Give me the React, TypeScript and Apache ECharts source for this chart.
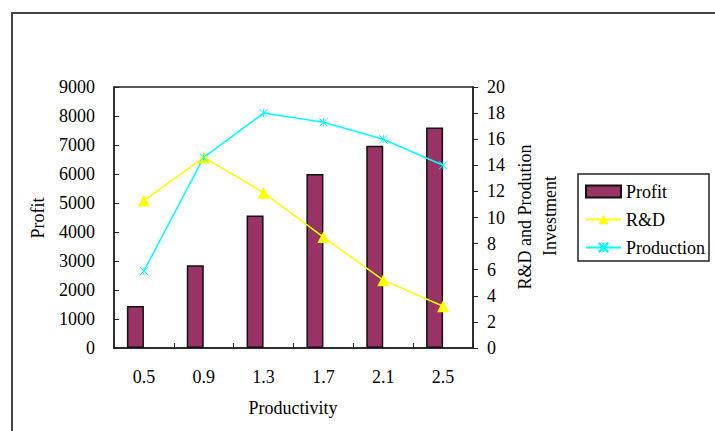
import React, { useEffect, useRef } from "react";
import * as echarts from "echarts";

const categories = ["0.5", "0.9", "1.3", "1.7", "2.1", "2.5"];
const profit = [1450, 2850, 4570, 6000, 6970, 7600];
const rnd = [11.3, 14.6, 11.9, 8.5, 5.2, 3.2];
const production = [5.9, 14.6, 18.0, 17.3, 16.0, 14.0];
const empty = [null, null, null, null, null, null];

const FONT = "'Liberation Serif', 'DejaVu Serif', serif";
const FS = 18;

export default function App() {
  const ref = useRef<HTMLDivElement>(null);
  useEffect(() => {
    if (!ref.current) return;
    const chart = echarts.init(ref.current, undefined, { renderer: "svg" });
    const textBase = { fontFamily: FONT, fontSize: FS, color: "#000" };
    chart.setOption({
      animation: false,
      backgroundColor: "#fff",
      textStyle: { fontFamily: FONT },
      grid: {
        left: 114,
        top: 87,
        width: 359,
        height: 261,
        show: true,
        borderColor: "#222",
        borderWidth: 1.5,
        containLabel: false,
      },
      legend: {
        orient: "vertical",
        left: 578,
        top: 174,
        padding: [7, 4, 3, 7],
        itemGap: 7,
        itemWidth: 35,
        itemHeight: 12,
        borderColor: "#222",
        borderWidth: 1.5,
        backgroundColor: "#fff",
        textStyle: { ...textBase, lineHeight: 21 },
        data: [{ name: "Profit", icon: "rect" }, { name: "R&D" }, { name: "Production" }],
      },
      xAxis: {
        type: "category",
        data: categories,
        axisLine: { show: true, lineStyle: { color: "#222", width: 1.5 } },
        axisTick: { show: true, inside: true, length: 5, lineStyle: { color: "#222" } },
        axisLabel: { ...textBase, margin: 20 },
        splitLine: { show: false },
      },
      yAxis: [
        {
          type: "value",
          min: 0,
          max: 9000,
          interval: 1000,
          axisLine: { show: true, lineStyle: { color: "#222", width: 1.5 } },
          axisTick: { show: true, inside: true, length: 5, lineStyle: { color: "#222" } },
          axisLabel: { ...textBase, margin: 19, formatter: (v: number) => String(v) },
          splitLine: { show: false },
        },
        {
          type: "value",
          min: 0,
          max: 20,
          interval: 2,
          position: "right",
          axisLine: { show: true, lineStyle: { color: "#222", width: 1.5 } },
          axisTick: { show: true, inside: false, length: 5, lineStyle: { color: "#222" } },
          axisLabel: { ...textBase, margin: 14, formatter: (v: number) => String(v) },
          splitLine: { show: false },
        },
      ],
      series: [
        {
          name: "Profit",
          type: "bar",
          data: profit,
          barWidth: 17,
          barGap: "0%",
          itemStyle: { color: "#993366", borderColor: "#111", borderWidth: 1.5 },
        },
        {
          name: "",
          type: "bar",
          data: empty,
          barWidth: 17,
          barGap: "0%",
          itemStyle: { color: "transparent" },
        },
        {
          name: "R&D",
          type: "line",
          yAxisIndex: 1,
          data: rnd,
          symbol: "triangle",
          symbolSize: 12,
          lineStyle: { color: "#FFFF00", width: 1.5 },
          itemStyle: { color: "#FFFF00" },
        },
        {
          name: "Production",
          type: "line",
          yAxisIndex: 1,
          data: production,
          symbol: "path://M0,0L8,8M8,0L0,8M4,0L4,8",
          symbolSize: 8,
          lineStyle: { color: "#00FFFF", width: 1.5 },
          itemStyle: { color: "#00FFFF", borderColor: "#00FFFF", borderWidth: 1 },
        },
      ],
      graphic: [
        {
          type: "rect",
          silent: true,
          shape: { x: 12, y: 13, width: 760, height: 500 },
          style: { fill: "none", stroke: "#444", lineWidth: 2 },
        },
        {
          type: "text",
          x: 38,
          y: 218,
          rotation: Math.PI / 2,
          style: { text: "Profit", font: `${FS}px ${FONT}`, fill: "#000", align: "center", verticalAlign: "middle" },
        },
        {
          type: "text",
          x: 525,
          y: 217,
          rotation: Math.PI / 2,
          style: { text: "R&D and Prodution", font: `${FS}px ${FONT}`, fill: "#000", align: "center", verticalAlign: "middle" },
        },
        {
          type: "text",
          x: 550,
          y: 216,
          rotation: Math.PI / 2,
          style: { text: "Investment", font: `${FS}px ${FONT}`, fill: "#000", align: "center", verticalAlign: "middle" },
        },
        {
          type: "text",
          x: 293,
          y: 408,
          style: { text: "Productivity", font: `${FS}px ${FONT}`, fill: "#000", align: "center", verticalAlign: "middle" },
        },
      ],
    });
    return () => chart.dispose();
  }, []);
  return (
    <div
      ref={ref}
      style={{ position: "absolute", left: 0, top: 0, width: 715, height: 431 }}
    />
  );
}
